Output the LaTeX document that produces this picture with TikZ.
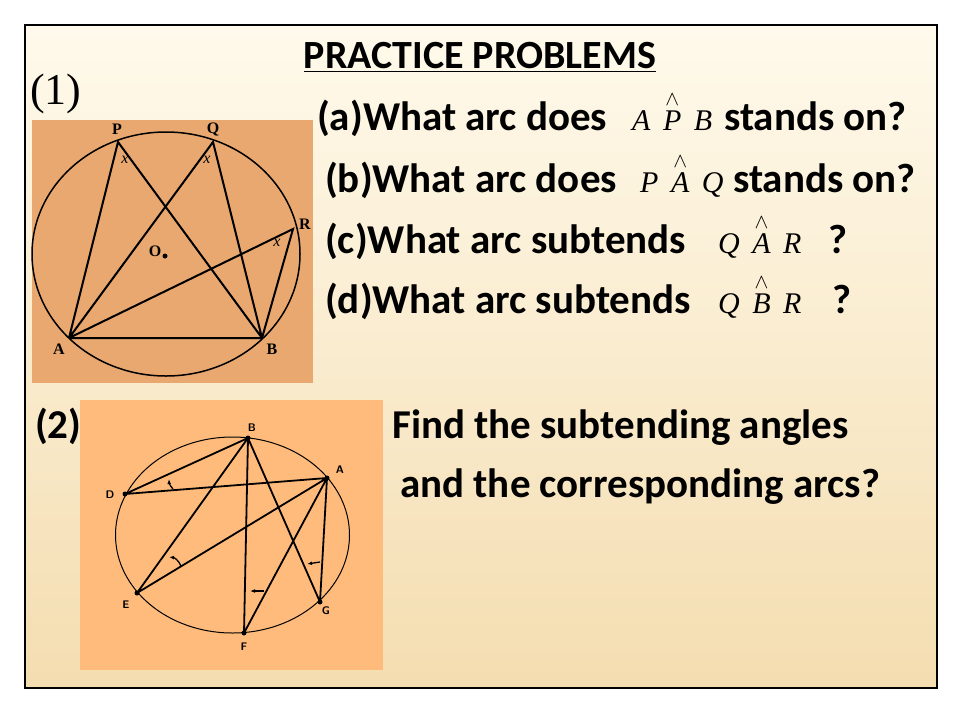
\documentclass[tikz,border=0pt]{standalone}
\usepackage{amsmath}
\usepackage{fontspec}
\setmainfont{Carlito}
\newfontfamily\serifx{Liberation Serif}
\usetikzlibrary{calc,arrows.meta}
\definecolor{figA}{HTML}{E8A870}
\definecolor{figB}{HTML}{FFBB7C}
\definecolor{bgtop}{HTML}{FFFAEC}
\definecolor{bgbot}{HTML}{F4DDB0}
\begin{document}
\begin{tikzpicture}[x=1pt,y=-1pt,
  txt/.style={anchor=base west,inner sep=0pt,font=\fontsize{41}{44}\selectfont\bfseries},
  mth/.style={anchor=base west,inner sep=0pt,font=\fontsize{30}{34}\selectfont\serifx\itshape},
  lbl/.style={inner sep=0pt,font=\fontsize{16}{18}\selectfont\serifx\bfseries},
  lbs/.style={inner sep=0pt,font=\fontsize{11}{12}\selectfont\sffamily\bfseries},
  xl/.style={inner sep=0pt,font=\fontsize{16}{18}\selectfont\serifx\itshape},
  ln/.style={line width=2pt},
  dt/.style={circle,fill=black,inner sep=0pt,minimum size=5pt}]
\useasboundingbox (0,0) rectangle (960,720);
\fill[white] (0,0) rectangle (960,720);
\shade[top color=bgtop,bottom color=bgbot] (25,25) rectangle (937,688);
\draw[line width=1.2pt] (25,25) rectangle (937,688);
% title
\node[anchor=base,inner sep=0pt,font=\fontsize{40}{44}\selectfont\bfseries] (title) at (480,68) {\underline{PRACTICE PROBLEMS}};
\node[anchor=base west,inner sep=0pt,font=\fontsize{44}{46}\selectfont\serifx] (n1) at (30,104) {(1)};
% questions
\node[txt] (qa) at (317,130) {(a)What arc does};
\node[mth] (ma) at (632,130) {A \,$\overset{\wedge}{\text{\itshape P}}$\, B};
\node[txt] (sa) at (724,130) {stands on?};
\node[txt] (qb) at (325,192) {(b)What arc does};
\node[mth] (mb) at (640,192) {P \,$\overset{\wedge}{\text{\itshape A}}$\, Q};
\node[txt] (sb) at (733,192) {stands on?};
\node[txt] (qc) at (325,253) {(c)What arc subtends};
\node[mth] (mc) at (718,253) {Q \,$\overset{\wedge}{\text{\itshape A}}$\, R};
\node[txt] (sc) at (828,253) {?};
\node[txt] (qd) at (325,313) {(d)What arc subtends};
\node[mth] (md) at (718,313) {Q \,$\overset{\wedge}{\text{\itshape B}}$\, R};
\node[txt] (sd) at (832,313) {?};
\node[txt] (n2) at (35,438) {(2)};
\node[txt] (f1) at (392,438) {Find the subtending angles};
\node[txt] (f2) at (400,497) {and the corresponding arcs?};
% figure 1
\fill[figA] (32,120) rectangle (313,383);
\draw[line width=1.5pt] (166,254) ellipse [x radius=134,y radius=122];
\coordinate (P) at (118,142);
\coordinate (Q) at (213,142);
\coordinate (R) at (293,229);
\coordinate (A) at (69,338);
\coordinate (B) at (262,338);
\draw[ln] (A)--(P)--(B) (A)--(Q)--(B) (A)--(R)--(B) (A)--(B);
\node[dt] (O) at (165,256) {};
\node[lbl] at (117,129) {P};
\node[lbl] at (213,129) {Q};
\node[lbl] at (305,224) {R};
\node[lbl] at (59,349) {A};
\node[lbl] at (272,349) {B};
\node[lbl] at (155,251) {O};
\node[xl] at (125,160) {x};
\node[xl] at (207,160) {x};
\node[xl] at (277,243) {x};
% figure 2
\fill[figB] (80,400) rectangle (383,670);
\draw[line width=1pt] (232.5,535) ellipse [x radius=117,y radius=98];
\coordinate (b2) at (248,438);
\coordinate (a2) at (327,478);
\coordinate (d2) at (125,494);
\coordinate (e2) at (137,593);
\coordinate (f2p) at (244,633);
\coordinate (g2) at (320,602);
\draw[line width=1.8pt] (d2)--(b2) (d2)--(a2) (b2)--(e2) (b2)--(f2p) (b2)--(g2) (a2)--(e2) (a2)--(f2p) (a2)--(g2);
\foreach \p in {b2,a2,d2,e2,f2p,g2} \fill (\p) circle (2.5pt);
\node[lbs] at (252,428) {B};
\node[lbs] at (340,470) {A};
\node[lbs] at (110,495) {D};
\node[lbs] at (126,605) {E};
\node[lbs] at (244,647) {F};
\node[lbs] at (326,611) {G};
\draw[line width=1.3pt,-{Latex[length=5pt]}] (173,489) to[bend left=20] (169,479);
\draw[line width=1.3pt,-{Latex[length=5pt]}] (181,566) to[bend right=30] (169,557);
\draw[line width=1.3pt,-{Latex[length=5pt]}] (264,591) -- (250,591);
\draw[line width=1.3pt,-{Latex[length=5pt]}] (320,562) -- (307,564);
\end{tikzpicture}
\end{document}
